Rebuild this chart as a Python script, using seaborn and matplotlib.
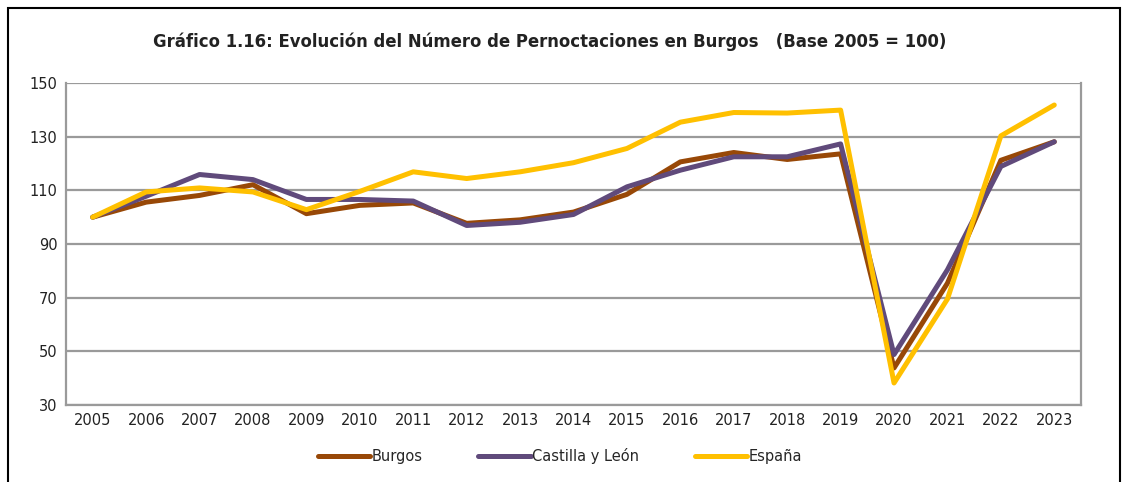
import pandas as pd
import matplotlib.pyplot as plt
import seaborn as sns
from matplotlib.patches import Rectangle

years = [str(y) for y in range(2005, 2024)]
burgos = [100, 105.6, 108.1, 112.1, 101.3, 104.4, 105.3, 97.7, 99.0, 101.9,
          108.5, 120.6, 124.1, 121.5, 123.6, 43.8, 75.4, 121.2, 128.1]
castilla = [100, 107.8, 115.9, 114.0, 106.6, 106.6, 106.0, 96.9, 98.1, 101.0,
            111.3, 117.5, 122.5, 122.5, 127.3, 48.8, 80.4, 118.9, 128.1]
espana = [100, 109.4, 110.9, 109.4, 102.8, 109.6, 116.9, 114.4, 116.9, 120.3,
          125.6, 135.4, 139.0, 138.8, 139.9, 38.2, 69.5, 130.3, 141.8]
series_names = ['Burgos', 'Castilla y León', 'España']
colors = ['#984807', '#604A7B', '#FFC000']
yticks = [30, 50, 70, 90, 110, 130, 150]

df = pd.DataFrame({'year': years * 3,
                   'value': burgos + castilla + espana,
                   'serie': [s for s in series_names for _ in years]})

sns.set_theme(style='white')
plt.rcParams['font.family'] = ['DejaVu Sans']

fig = plt.figure(figsize=(11.29, 4.82), dpi=100)
ax = fig.add_axes([66 / 1129, 1 - 405 / 482, (1081 - 66) / 1129, (405 - 83) / 482])

sns.lineplot(data=df, x='year', y='value', hue='serie', palette=colors,
             linewidth=3.6, ax=ax, sort=False, legend=True)

ax.set_xlim(-0.5, len(years) - 0.5)
ax.set_ylim(30, 150)
ax.set_yticks(yticks)
ax.set_xlabel('')
ax.set_ylabel('')
ax.yaxis.grid(True, color='#9a9a9a', linewidth=1.6)
ax.set_axisbelow(True)
ax.tick_params(axis='both', labelsize=10.5, colors='#222222', length=0, pad=6)
for side in ['left', 'right', 'bottom']:
    ax.spines[side].set_color('#9a9a9a')
    ax.spines[side].set_linewidth(1.6)
ax.spines['top'].set_visible(False)

handles, labels = ax.get_legend_handles_labels()
ax.get_legend().remove()
fig.legend(handles, labels, loc='center', bbox_to_anchor=(560 / 1129, 1 - 456 / 482),
           ncol=3, frameon=False, fontsize=10.5, handlelength=3.6,
           handletextpad=0.1, columnspacing=3.8)

fig.text(550 / 1129, 1 - 42 / 482,
         'Gráfico 1.16: Evolución del Número de Pernoctaciones en Burgos   (Base 2005 = 100)',
         ha='center', va='center', fontsize=11.9, fontweight='bold', color='#222222')

fig.patches.append(Rectangle((8 / 1129, -0.05), 1112 / 1129, 1 - 8 / 482 + 0.05,
                             transform=fig.transFigure, fill=False,
                             edgecolor='black', linewidth=1.5))

fig.savefig('out.png', dpi=100)
